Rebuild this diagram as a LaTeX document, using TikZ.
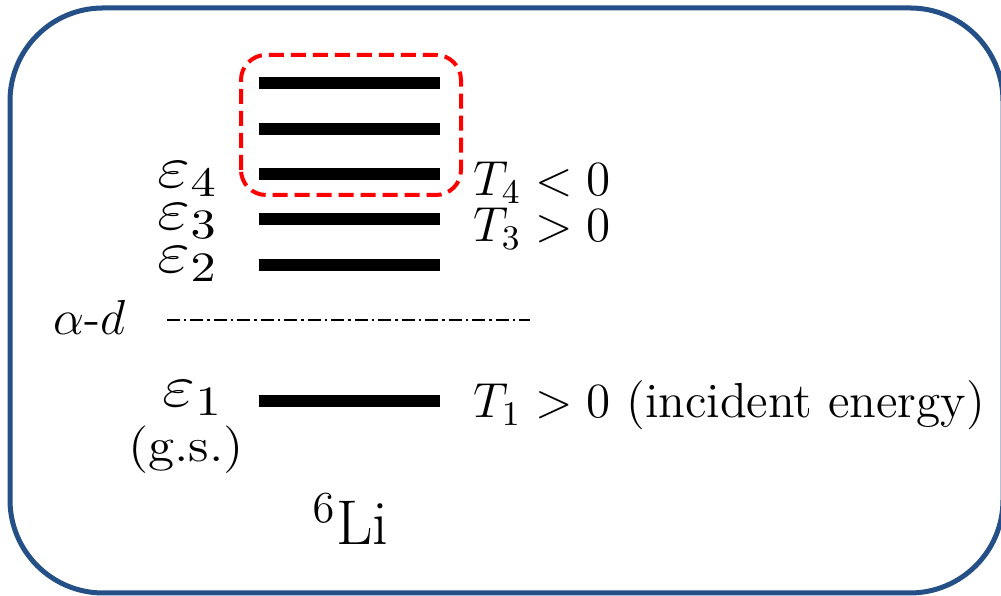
\documentclass[tikz,border=0pt]{standalone}
\usepackage{fix-cm}
\usepackage{amsmath}
\usetikzlibrary{calc}

\definecolor{framebl}{RGB}{36,80,135}

\begin{document}
\begin{tikzpicture}[
    levbar/.style={line width=0.115cm},
    lbl/.style={inner sep=0pt,font=\fontsize{14}{17}\selectfont},
    epslbl/.style={inner sep=0pt,xscale=1.2,font=\fontsize{17}{20}\selectfont},
]

\useasboundingbox (0,0) rectangle (10.01,5.96);

% =====================================================
% frame
% =====================================================

\draw[framebl,line width=0.05cm,rounded corners=0.93cm]
    (0.10,0.03) rectangle (10.03,5.88);

% =====================================================
% levels of 6Li
% =====================================================

\draw[levbar] (2.585,5.13) -- (4.395,5.13);
\draw[levbar] (2.585,4.67) -- (4.395,4.67);
\draw[levbar] (2.585,4.22) -- (4.395,4.22);
\draw[levbar] (2.585,3.77) -- (4.395,3.77);
\draw[levbar] (2.585,3.31) -- (4.395,3.31);
\draw[levbar] (2.585,1.95) -- (4.395,1.95);

\draw[red,line width=0.04cm,dash pattern=on 0.15cm off 0.07cm,
      rounded corners=0.25cm]
    (2.41,4.01) rectangle (4.61,5.41);

% alpha-d threshold
\coordinate (ad1) at (1.67,2.76);
\coordinate (ad2) at (5.30,2.76);
\draw[line width=0.012cm,
      dash pattern=on 0.13cm off 0.04cm on 0.025cm off 0.04cm]
    (ad1) -- (ad2);

\node[lbl,anchor=base west] (ad) at (0.53,2.61) {$\alpha$-$d$};

% =====================================================
% labels
% =====================================================

\node[epslbl,anchor=base west] (e4) at (1.57,4.08) {$\varepsilon_4$};
\node[epslbl,anchor=base west] (e3) at (1.57,3.66) {$\varepsilon_3$};
\node[epslbl,anchor=base west] (e2) at (1.57,3.23) {$\varepsilon_2$};
\node[epslbl,anchor=base west] (e1) at (1.62,1.89) {$\varepsilon_1$};

\node[inner sep=0pt,xscale=1.12,anchor=base,font=\fontsize{13.5}{16}\selectfont]
    (gs) at (1.86,1.345) {(g.s.)};

\node[lbl,anchor=base west] (t4) at (4.73,4.00) {$T_4 < 0$};
\node[lbl,anchor=base west] (t3) at (4.73,3.54) {$T_3 > 0$};
\node[lbl,anchor=base west] (t1) at (4.73,1.78) {$T_1 > 0$ (incident energy)};

\node[inner sep=0pt,anchor=base west,font=\fontsize{18}{21}\selectfont]
    (li) at (3.12,0.51) {${}^{6}$Li};

\end{tikzpicture}
\end{document}
